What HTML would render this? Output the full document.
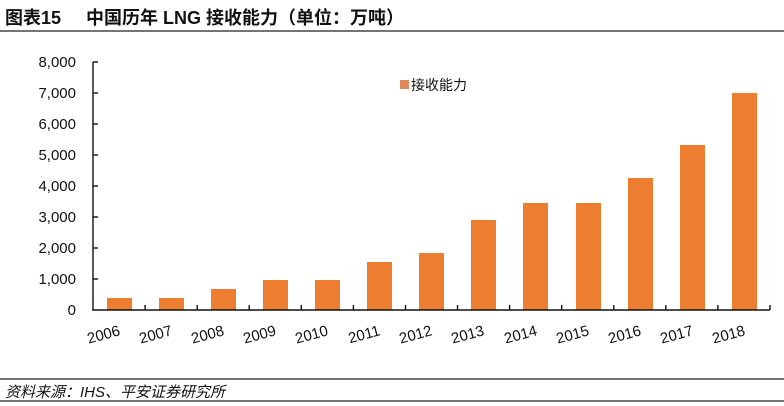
<!DOCTYPE html>
<html><head><meta charset="utf-8"><style>
html,body{margin:0;padding:0;background:#fff;}
svg{display:block;}
</style></head><body>
<svg width="784" height="406" viewBox="0 0 784 406" xmlns="http://www.w3.org/2000/svg">
<rect width="784" height="406" fill="#fff"/>
<text x="5" y="24" font-family="Liberation Sans, Noto Sans CJK SC, sans-serif" font-size="18" font-weight="bold" fill="#111">图表15</text>
<text x="86" y="24" font-family="Liberation Sans, Noto Sans CJK SC, sans-serif" font-size="18" font-weight="bold" fill="#111">中国历年 LNG 接收能力（单位：万吨）</text>
<line x1="0" y1="31" x2="784" y2="31" stroke="#222" stroke-width="1.3"/>
<g font-family="Liberation Sans, sans-serif" font-size="15" fill="#111" text-anchor="end">
<text x="76" y="67">8,000</text>
<text x="76" y="98">7,000</text>
<text x="76" y="129">6,000</text>
<text x="76" y="160">5,000</text>
<text x="76" y="191">4,000</text>
<text x="76" y="222">3,000</text>
<text x="76" y="253">2,000</text>
<text x="76" y="284">1,000</text>
<text x="76" y="315">0</text>
</g>
<g fill="#ED7D31">
<rect x="107" y="298" width="25" height="12"/>
<rect x="159" y="298" width="25" height="12"/>
<rect x="211" y="289" width="25" height="21"/>
<rect x="263" y="280" width="25" height="30"/>
<rect x="315" y="280" width="25" height="30"/>
<rect x="367" y="262" width="25" height="48"/>
<rect x="419" y="253" width="25" height="57"/>
<rect x="471" y="220" width="25" height="90"/>
<rect x="523" y="203" width="25" height="107"/>
<rect x="576" y="203" width="25" height="107"/>
<rect x="628" y="178" width="25" height="132"/>
<rect x="680" y="145" width="25" height="165"/>
<rect x="732" y="93" width="25" height="217"/>
</g>
<g stroke="#111" stroke-width="1.4">
<line x1="93" y1="62" x2="93" y2="310.7"/>
<line x1="92.3" y1="310" x2="770" y2="310"/>
<line x1="93" y1="62" x2="98" y2="62"/>
<line x1="93" y1="93" x2="98" y2="93"/>
<line x1="93" y1="124" x2="98" y2="124"/>
<line x1="93" y1="155" x2="98" y2="155"/>
<line x1="93" y1="186" x2="98" y2="186"/>
<line x1="93" y1="217" x2="98" y2="217"/>
<line x1="93" y1="248" x2="98" y2="248"/>
<line x1="93" y1="279" x2="98" y2="279"/>
<line x1="145.1" y1="310" x2="145.1" y2="305"/>
<line x1="197.2" y1="310" x2="197.2" y2="305"/>
<line x1="249.2" y1="310" x2="249.2" y2="305"/>
<line x1="301.3" y1="310" x2="301.3" y2="305"/>
<line x1="353.4" y1="310" x2="353.4" y2="305"/>
<line x1="405.5" y1="310" x2="405.5" y2="305"/>
<line x1="457.5" y1="310" x2="457.5" y2="305"/>
<line x1="509.6" y1="310" x2="509.6" y2="305"/>
<line x1="561.7" y1="310" x2="561.7" y2="305"/>
<line x1="613.8" y1="310" x2="613.8" y2="305"/>
<line x1="665.8" y1="310" x2="665.8" y2="305"/>
<line x1="717.9" y1="310" x2="717.9" y2="305"/>
<line x1="770" y1="310" x2="770" y2="305"/>
</g>
<g font-family="Liberation Sans, sans-serif" font-size="15" fill="#111" text-anchor="end">
<text transform="translate(121,335) rotate(-15)">2006</text>
<text transform="translate(173,335) rotate(-15)">2007</text>
<text transform="translate(225,335) rotate(-15)">2008</text>
<text transform="translate(277,335) rotate(-15)">2009</text>
<text transform="translate(329,335) rotate(-15)">2010</text>
<text transform="translate(381,335) rotate(-15)">2011</text>
<text transform="translate(433,335) rotate(-15)">2012</text>
<text transform="translate(485,335) rotate(-15)">2013</text>
<text transform="translate(538,335) rotate(-15)">2014</text>
<text transform="translate(590,335) rotate(-15)">2015</text>
<text transform="translate(642,335) rotate(-15)">2016</text>
<text transform="translate(694,335) rotate(-15)">2017</text>
<text transform="translate(746,335) rotate(-15)">2018</text>
</g>
<rect x="400" y="80" width="9" height="9" fill="#E0895A"/>
<text x="411" y="90" font-family="Liberation Sans, Noto Sans CJK SC, sans-serif" font-size="14" fill="#111">接收能力</text>
<line x1="0" y1="379" x2="784" y2="379" stroke="#222" stroke-width="1.3"/>
<text x="5" y="397" font-family="Liberation Sans, Noto Sans CJK SC, sans-serif" font-size="15" font-style="italic" fill="#111">资料来源：IHS、平安证券研究所</text>
<line x1="0" y1="401" x2="784" y2="401" stroke="#222" stroke-width="1.3"/>
</svg>
</body></html>
